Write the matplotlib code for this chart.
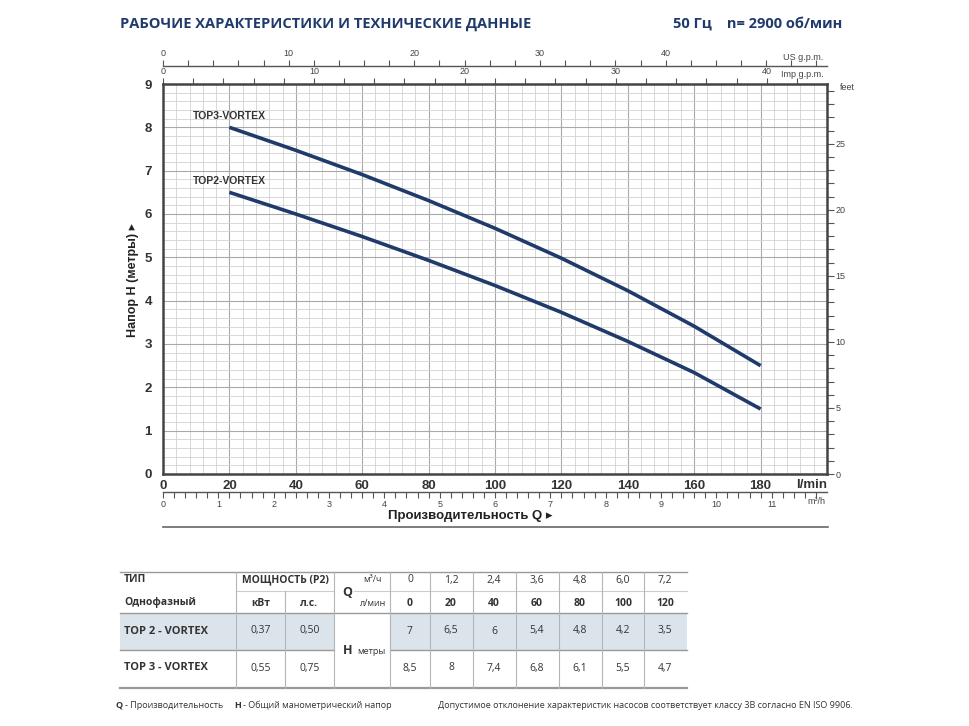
import numpy as np
import matplotlib.pyplot as plt
from matplotlib.ticker import MultipleLocator

# curves (Q in l/min, H in m)
q_curve = [20, 40, 60, 80, 100, 120, 140, 160, 180]
h_top3 = [8.0, 7.47, 6.91, 6.31, 5.67, 4.98, 4.23, 3.41, 2.5]
h_top2 = [6.5, 6.0, 5.48, 4.93, 4.35, 3.73, 3.06, 2.34, 1.5]
curve_names = ['TOP3-VORTEX', 'TOP2-VORTEX']

# table
models = ['TOP 2 - VORTEX', 'TOP 3 - VORTEX']
power_kw = ['0,37', '0,55']
power_hp = ['0,50', '0,75']
q_m3h = ['0', '1,2', '2,4', '3,6', '4,8', '6,0', '7,2']
q_lmin = ['0', '20', '40', '60', '80', '100', '120']
h_table = [['7', '6,5', '6', '5,4', '4,8', '4,2', '3,5'],
           ['8,5', '8', '7,4', '6,8', '6,1', '5,5', '4,7']]

NAVY = '#1f3a6b'
NARROW = ['Liberation Sans Narrow', 'Liberation Sans', 'DejaVu Sans']
TFONT = ['Open Sans', 'DejaVu Sans']

W, H = 970, 726
fig = plt.figure(figsize=(9.7, 7.26), dpi=100)

def box(l, t, r, b):
   return [l / W, 1 - b / H, (r - l) / W, (b - t) / H]

# overlay in pixel coords for the text / table parts
ov = fig.add_axes([0, 0, 1, 1])
ov.set_xlim(0, W)
ov.set_ylim(H, 0)
ov.axis('off')

L, R, T, B = 163, 827, 84, 474
ax = fig.add_axes(box(L, T, R, B))
ax.set_xlim(0, 200)
ax.set_ylim(0, 9)
ax.xaxis.set_major_locator(MultipleLocator(20))
ax.xaxis.set_minor_locator(MultipleLocator(4))
ax.yaxis.set_major_locator(MultipleLocator(1))
ax.yaxis.set_minor_locator(MultipleLocator(0.2))
ax.grid(which='minor', color='#d2d2d2', lw=0.6)
ax.grid(which='major', color='#a9a9a9', lw=0.8)
ax.set_axisbelow(True)
for s in ax.spines.values():
   s.set_linewidth(1.8)
   s.set_color('#444444')
ax.tick_params(which='both', length=0)
ax.tick_params(axis='x', pad=4)
ax.tick_params(axis='y', pad=8)
ax.set_xticks([t for t in range(0, 181, 20)])
for lab in ax.get_xticklabels() + ax.get_yticklabels():
   lab.set_fontfamily(NARROW)
   lab.set_fontweight('bold')
   lab.set_fontsize(9.5)
   lab.set_color('#333333')

ax.plot(q_curve, h_top3, color=NAVY, lw=2.6, solid_capstyle='butt', solid_joinstyle='round')
ax.plot(q_curve, h_top2, color=NAVY, lw=2.6, solid_capstyle='butt', solid_joinstyle='round')
ax.text(q_curve[0], h_top3[0] + 0.27, curve_names[0], ha='center', va='center',
        fontsize=7.5, fontweight='bold', family=NARROW, color='#333333')
ax.text(q_curve[0], h_top2[0] + 0.27, curve_names[1], ha='center', va='center',
        fontsize=7.5, fontweight='bold', family=NARROW, color='#333333')
ax.text(1.0, (B - 485) / (B - T), 'l/min', transform=ax.transAxes, ha='right', va='center',
        fontsize=9.5, fontweight='bold', family=NARROW, color='#333333')

small = dict(fontsize=6.5, family=NARROW, color='#444444')

# m3/h axis below
ax_m3 = ax.secondary_xaxis((B - 492) / (B - T), functions=(lambda x: x / 16.667, lambda x: x * 16.667))
ax_m3.xaxis.set_major_locator(MultipleLocator(1))
ax_m3.xaxis.set_minor_locator(MultipleLocator(0.2))
ax_m3.set_xticks([t for t in range(0, 12)])
ax_m3.tick_params(which='both', direction='out', length=4, width=0.8, color='#555555', pad=2)
ax_m3.spines['bottom'].set_linewidth(1.0)
ax_m3.spines['bottom'].set_color('#555555')
for lab in ax_m3.get_xticklabels():
   lab.set(**small)
ax.text(0.997, (B - 502) / (B - T), 'm³/h', transform=ax.transAxes, ha='right', va='center', **small)

# US gpm axis on top
ax_us = ax.secondary_xaxis((B - 66) / (B - T), functions=(lambda x: x / 3.785, lambda x: x * 3.785))
ax_us.xaxis.set_major_locator(MultipleLocator(10))
ax_us.xaxis.set_minor_locator(MultipleLocator(2))
ax_us.set_xticks([0, 10, 20, 30, 40])
ax_us.tick_params(which='both', direction='out', length=4, width=0.8, color='#555555', pad=2)
ax_us.spines['top'].set_linewidth(1.0)
ax_us.spines['top'].set_color('#555555')
for lab in ax_us.get_xticklabels():
   lab.set(**small)
ax.text(0.995, (B - 57) / (B - T), 'US g.p.m.', transform=ax.transAxes, ha='right', va='center', **small)

# Imp gpm axis on the plot top
ax_imp = ax.secondary_xaxis('top', functions=(lambda x: x / 4.546, lambda x: x * 4.546))
ax_imp.xaxis.set_major_locator(MultipleLocator(10))
ax_imp.xaxis.set_minor_locator(MultipleLocator(2))
ax_imp.set_xticks([0, 10, 20, 30, 40])
ax_imp.tick_params(which='both', direction='out', length=4, width=0.8, color='#555555', pad=2)
ax_imp.spines['top'].set_visible(False)
for lab in ax_imp.get_xticklabels():
   lab.set(**small)
ax.text(0.995, (B - 74) / (B - T), 'Imp g.p.m.', transform=ax.transAxes, ha='right', va='center', **small)

# feet on the right
ax_ft = ax.secondary_yaxis('right', functions=(lambda m: m * 3.28084, lambda f: f / 3.28084))
ax_ft.yaxis.set_major_locator(MultipleLocator(5))
ax_ft.yaxis.set_minor_locator(MultipleLocator(1))
ax_ft.set_yticks([0, 5, 10, 15, 20, 25])
ax_ft.tick_params(which='both', direction='out', length=5, width=0.8, color='#555555', pad=1)
ax_ft.spines['right'].set_visible(False)
for lab in ax_ft.get_yticklabels():
   lab.set(**small)
ax.text(1.02, (B - 88) / (B - T), 'feet', transform=ax.transAxes, ha='left', va='center', **small)

# axis titles
fig.text(133 / W, 1 - 280 / H, 'Напор H (метры) ▸', rotation=90, ha='center', va='center',
         fontsize=9, fontweight='bold', family=NARROW, color='#222222')
fig.text(470 / W, 1 - 516 / H, 'Производительность Q ▸', ha='center', va='center',
         fontsize=9.5, fontweight='bold', family=NARROW, color='#222222')
ov.plot([L, R + 1], [527, 527], color='#666666', lw=1.2)

# header
ov.text(120, 24, 'РАБОЧИЕ ХАРАКТЕРИСТИКИ И ТЕХНИЧЕСКИЕ ДАННЫЕ', fontsize=10.5, fontweight='bold',
        family=TFONT, color=NAVY, va='center', ha='left')
ov.text(842, 24, '50 Гц    n= 2900 об/мин', fontsize=10.5, fontweight='bold',
        family=TFONT, color=NAVY, va='center', ha='right')

# table
tl, tr = 120, 687
col_x = [236, 285, 334, 390, 430, 473, 516, 559, 602, 644]
val_cx = [410, 451, 494, 537, 580, 623, 665]
y_top, y_mid, y_head, y_row, y_bot = 572, 591, 613, 650, 688
tk = dict(family=TFONT, color='#333333', va='center')

ov.add_patch(plt.Rectangle((tl, y_head), col_x[2] - tl, y_row - y_head, color='#dbe4ea', lw=0))
ov.add_patch(plt.Rectangle((col_x[3], y_head), tr - col_x[3], y_row - y_head, color='#dbe4ea', lw=0))
ov.plot([tl, tr], [y_top, y_top], color='#999999', lw=1.0)
ov.plot([tl, tr], [y_head, y_head], color='#999999', lw=1.0)
ov.plot([tl, col_x[2]], [y_row, y_row], color='#999999', lw=1.0)
ov.plot([col_x[3], tr], [y_row, y_row], color='#999999', lw=1.0)
ov.plot([tl, tr], [y_bot, y_bot], color='#999999', lw=1.6)
ov.plot([col_x[0], col_x[2]], [y_mid, y_mid], color='#cccccc', lw=0.8)
ov.plot([col_x[2] + 20, tr], [y_mid, y_mid], color='#cccccc', lw=0.8)
for i, x in enumerate(col_x):
   top = y_mid if i == 1 else y_top
   ov.plot([x, x], [top, y_bot], color='#b5b5b5', lw=0.8)

ov.text(124, 580, 'ТИП', fontsize=7.5, fontweight='bold', **tk)
ov.text(124, 603, 'Однофазный', fontsize=7.5, fontweight='bold', **tk)
ov.text((col_x[0] + col_x[2]) / 2, 580, 'МОЩНОСТЬ (P2)', fontsize=7.5, fontweight='bold', ha='center', **tk)
ov.text((col_x[0] + col_x[1]) / 2, 603, 'кВт', fontsize=7.5, fontweight='bold', ha='center', **tk)
ov.text((col_x[1] + col_x[2]) / 2, 603, 'л.с.', fontsize=7.5, fontweight='bold', ha='center', **tk)
ov.text(347, 592, 'Q', fontsize=9, fontweight='bold', ha='center', **tk)
ov.text(372, 580, 'м³/ч', fontsize=6.5, ha='center', **tk)
ov.text(373, 603, 'л/мин', fontsize=6.5, ha='center', **tk)
ov.text(343, 651, 'H', fontsize=9, fontweight='bold', ha='left', **tk)
ov.text(357, 651, 'метры', fontsize=6.5, ha='left', **tk)
for j in range(len(q_m3h)):
   ov.text(val_cx[j], 580, q_m3h[j], fontsize=7.5, ha='center', **tk)
   ov.text(val_cx[j], 603, q_lmin[j], fontsize=7.5, fontweight='bold', ha='center', **tk)
row_y = [631, 668]
for i in range(len(models)):
   ov.text(124, row_y[i], models[i], fontsize=8, fontweight='bold', **tk)
   ov.text((col_x[0] + col_x[1]) / 2, row_y[i], power_kw[i], fontsize=7.5, ha='center', **tk)
   ov.text((col_x[1] + col_x[2]) / 2, row_y[i], power_hp[i], fontsize=7.5, ha='center', **tk)
   for j in range(len(h_table[i])):
      ov.text(val_cx[j], row_y[i], h_table[i][j], fontsize=7.5, ha='center', **tk)

# footer
fk = dict(family=TFONT, color='#333333', va='center', fontsize=6.5)
ov.text(116, 705, 'Q', fontweight='bold', **fk)
ov.text(125, 705, '- Производительность', **fk)
ov.text(234, 705, 'H', fontweight='bold', **fk)
ov.text(243, 705, '- Общий манометрический напор', **fk)
ov.text(438, 705, 'Допустимое отклонение характеристик насосов соответствует классу 3B согласно EN ISO 9906.', **fk)

fig.savefig('out.png', dpi=100, facecolor='white')
